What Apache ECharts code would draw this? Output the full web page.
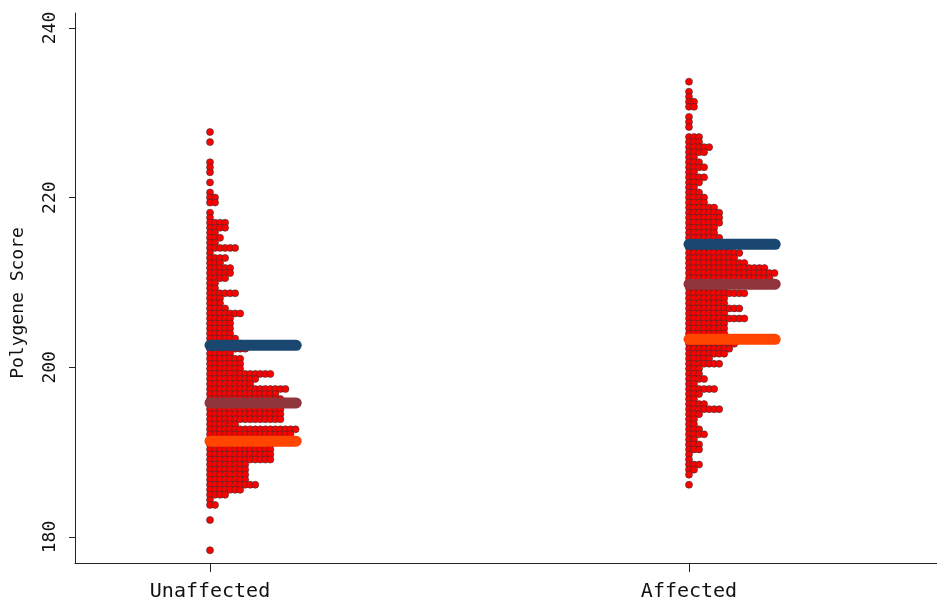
<!DOCTYPE html>
<html>
<head>
<meta charset="utf-8">
<title>Polygene Score</title>
<script src="https://cdn.jsdelivr.net/npm/echarts@6/dist/echarts.min.js"></script>
<style>
html, body { margin: 0; padding: 0; background: #fff; }
#main { width: 937px; height: 607px; }
</style>
</head>
<body>
<div id="main"></div>
<script>
// groups on the x axis
var groups = ['Unaffected', 'Affected'];
// dot rows: value of the top row and distance between rows
var rowTop = 233.68;
var rowStep = 0.594;
// dots in each row, top row first
var unaffectedCounts = [
    0, 0, 0, 0, 0, 0, 0, 0, 0, 0,
    1, 0, 1, 0, 0, 0, 1, 1, 1, 0,
    1, 0, 1, 2, 2, 0, 1, 1, 4, 4,
    2, 3, 2, 6, 1, 4, 3, 5, 5, 4,
    2, 2, 6, 3, 3, 4, 7, 5, 5, 5,
    5, 6, 7, 8, 5, 7, 7, 7, 13, 10,
    9, 16, 14, 15, 14, 15, 15, 15, 6, 18,
    17, 16, 13, 13, 13, 13, 8, 8, 8, 8,
    10, 7, 4, 1, 2, 0, 0, 1, 0, 0,
    0, 0, 0, 1
];
var affectedCounts = [
    1, 0, 1, 1, 2, 2, 0, 1, 1, 1,
    0, 3, 3, 5, 4, 2, 3, 4, 2, 4,
    3, 2, 3, 4, 4, 6, 7, 7, 7, 6,
    6, 7, 7, 9, 11, 10, 12, 16, 18, 17,
    15, 8, 12, 8, 8, 11, 8, 12, 8, 8,
    8, 8, 10, 9, 8, 5, 7, 3, 3, 4,
    2, 6, 3, 2, 4, 7, 3, 2, 2, 3,
    4, 2, 3, 3, 1, 1, 3, 2, 1, 0,
    1, 0, 0, 0, 0, 0, 0, 0, 0, 0,
    0, 0, 0, 0
];
// horizontal marker lines of each group
var unaffectedLines = [202.6, 195.8, 191.3];
var affectedLines = [214.5, 209.8, 203.3];
var lineColors = ['#1a476f', '#90353b', '#ff4500'];
var yTicks = [180, 200, 220, 240];

var dotStep = 0.0105;
var lineLen = 0.18;
var font = 'DejaVu Sans Mono';

function dots(counts, gx) {
    var out = [];
    counts.forEach(function (n, i) {
        var y = rowTop - i * rowStep;
        for (var j = 0; j < n; j++) {
            out.push([gx + j * dotStep, y]);
        }
    });
    return out;
}

var series = [
    {
        type: 'scatter',
        data: dots(unaffectedCounts, 1).concat(dots(affectedCounts, 2)),
        symbol: 'circle',
        symbolSize: 7,
        silent: true,
        itemStyle: {
            color: '#ff0000',
            opacity: 1,
            borderColor: '#333',
            borderWidth: 0.6
        },
        z: 2
    }
];

[unaffectedLines, affectedLines].forEach(function (vals, g) {
    vals.forEach(function (v, c) {
        series.push({
            type: 'line',
            data: [[g + 1, v], [g + 1 + lineLen, v]],
            symbol: 'none',
            silent: true,
            z: 5,
            lineStyle: { color: lineColors[c], width: 11, cap: 'round', opacity: 1 }
        });
    });
});

var chart = echarts.init(document.getElementById('main'));
var option = {
    animation: false,
    backgroundColor: '#fff',
    grid: { left: 75, right: 0, top: 13, bottom: 44 },
    xAxis: {
        type: 'value',
        min: 0.71816,
        max: 2.51775,
        splitLine: { show: false },
        axisLine: { show: true, lineStyle: { color: '#222', width: 1 } },
        axisTick: { show: true, customValues: [1, 2], length: 9, lineStyle: { color: '#222' } },
        axisLabel: {
            customValues: [1, 2],
            formatter: function (v) { return groups[Math.round(v) - 1]; },
            fontFamily: font,
            fontSize: 20,
            color: '#111',
            margin: 19
        }
    },
    yAxis: {
        type: 'value',
        min: 176.935,
        max: 241.77,
        name: 'Polygene Score',
        nameLocation: 'middle',
        nameGap: 48,
        nameRotate: 90,
        nameTextStyle: { fontFamily: font, fontSize: 18, color: '#111', padding: [0, 30, 0, 0] },
        splitLine: { show: false },
        axisLine: { show: true, lineStyle: { color: '#222', width: 1 } },
        axisTick: { show: true, customValues: yTicks, length: 6, lineStyle: { color: '#222' } },
        axisLabel: {
            customValues: yTicks,
            rotate: 90,
            fontFamily: font,
            fontSize: 18,
            color: '#111',
            margin: 16
        }
    },
    series: series
};
chart.setOption(option);
window.addEventListener('resize', function () {
    chart.resize();
});
</script>
</body>
</html>
